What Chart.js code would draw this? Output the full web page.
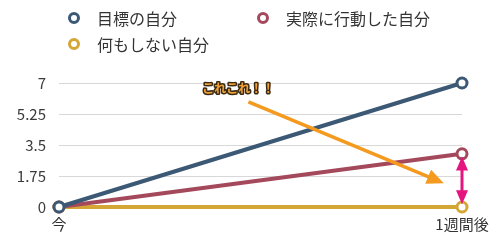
<!DOCTYPE html>
<html>
<head>
<meta charset="utf-8">
<script src="https://cdn.jsdelivr.net/npm/chart.js@4/dist/chart.umd.min.js"></script>
<style>
  html, body { margin: 0; padding: 0; background: #fff; }
  #wrap { width: 500px; height: 240px; position: relative; }
</style>
</head>
<body>
<div id="wrap"><canvas id="c"></canvas></div>
<script>
const labels = ["今", "1週間後"]
const seriesNames = ["目標の自分", "実際に行動した自分", "何もしない自分"]
const targetSelf = [0, 7]
const actualSelf = [0, 3]
const idleSelf = [0, 0]
const yTicks = [0, 1.75, 3.5, 5.25, 7]
const colors = ["#3b5874", "#a4485c", "#d3a636"]

const FONT = "'Noto Sans CJK JP', 'Noto Sans', sans-serif"

// legend in two columns, drawn by hand
const legendPlugin = {
  id: "gridLegend",
  afterDraw(chart) {
    const ctx = chart.ctx
    const spots = [[74, 18], [263, 18], [74, 44]]
    ctx.save()
    ctx.font = "16px " + FONT
    ctx.textBaseline = "middle"
    chart.data.datasets.forEach((ds, i) => {
      const [x, y] = spots[i]
      ctx.beginPath()
      ctx.arc(x, y, 4.5, 0, Math.PI * 2)
      ctx.fillStyle = "#fff"
      ctx.fill()
      ctx.lineWidth = 3
      ctx.strokeStyle = ds.borderColor
      ctx.stroke()
      ctx.fillStyle = "#333"
      ctx.fillText(ds.label, x + 23, y + 1)
    })
    ctx.restore()
  }
}

function arrowHead(ctx, x1, y1, x2, y2, len, wid) {
  const a = Math.atan2(y2 - y1, x2 - x1)
  ctx.beginPath()
  ctx.moveTo(x2, y2)
  ctx.lineTo(x2 - len * Math.cos(a) + wid * Math.sin(a), y2 - len * Math.sin(a) - wid * Math.cos(a))
  ctx.lineTo(x2 - len * Math.cos(a) - wid * Math.sin(a), y2 - len * Math.sin(a) + wid * Math.cos(a))
  ctx.closePath()
  ctx.fill()
}

// the hand-drawn callouts, placed in data units
const notePlugin = {
  id: "notes",
  afterDatasetsDraw(chart) {
    const ctx = chart.ctx
    const xs = chart.scales.x
    const ys = chart.scales.y
    const px = v => xs.getPixelForValue(0) + (xs.getPixelForValue(1) - xs.getPixelForValue(0)) * v
    ctx.save()

    // orange arrow
    const ax1 = px(0.47), ay1 = ys.getPixelForValue(5.94)
    const ax2 = px(0.955), ay2 = ys.getPixelForValue(1.34)
    ctx.strokeStyle = "#f39a1f"
    ctx.fillStyle = "#f39a1f"
    ctx.lineWidth = 3.5
    ctx.beginPath()
    ctx.moveTo(ax1, ay1)
    ctx.lineTo(ax2 - 8, ay2 - 3.4)
    ctx.stroke()
    arrowHead(ctx, ax1, ay1, ax2, ay2, 17, 7.5)

    // label
    ctx.font = "bold 12px " + FONT
    ctx.textAlign = "center"
    ctx.textBaseline = "middle"
    ctx.lineWidth = 3
    ctx.lineJoin = "round"
    ctx.strokeStyle = "#3b2a12"
    const tx = px(0.445), ty = ys.getPixelForValue(6.68)
    ctx.strokeText("これこれ！！", tx, ty)
    ctx.fillStyle = "#f2a23a"
    ctx.fillText("これこれ！！", tx, ty)

    // magenta double arrow
    const mx = xs.getPixelForValue(1)
    const mTop = ys.getPixelForValue(2.85), mBot = ys.getPixelForValue(0.15)
    ctx.strokeStyle = "#e5157f"
    ctx.fillStyle = "#e5157f"
    ctx.lineWidth = 3
    ctx.beginPath()
    ctx.moveTo(mx, mTop + 10)
    ctx.lineTo(mx, mBot - 10)
    ctx.stroke()
    arrowHead(ctx, mx, mBot, mx, mTop, 14, 6)
    arrowHead(ctx, mx, mTop, mx, mBot, 14, 6)
    ctx.restore()
  }
}

const data = [targetSelf, actualSelf, idleSelf]

new Chart(document.getElementById("c"), {
  type: "line",
  data: {
    labels: labels,
    datasets: seriesNames.map((name, i) => ({
      label: name,
      data: data[i],
      borderColor: colors[i],
      backgroundColor: "#fff",
      borderWidth: 4,
      pointRadius: 5,
      pointBorderWidth: 3,
      pointBackgroundColor: "#fff",
      pointBorderColor: colors[i],
      clip: false,
      tension: 0
    }))
  },
  options: {
    responsive: true,
    maintainAspectRatio: false,
    animation: false,
    layout: { padding: { top: 83, right: 38, left: 0, bottom: 7 } },
    scales: {
      x: {
        offset: false,
        grid: { display: false },
        border: { display: false },
        ticks: { color: "#333", font: { family: FONT, size: 15 }, padding: 0, maxRotation: 0 }
      },
      y: {
        min: 0,
        max: 7,
        afterFit(scale) { scale.width = 59 },
        afterBuildTicks(scale) { scale.ticks = yTicks.map(v => ({ value: v })) },
        grid: { color: "#d8d8d8", drawTicks: false, lineWidth: 1 },
        border: { display: false },
        ticks: {
          color: "#3a3a3a",
          font: { family: FONT, size: 15 },
          padding: 13,
          callback: v => String(v)
        }
      }
    },
    plugins: {
      legend: { display: false },
      tooltip: { enabled: false }
    }
  },
  plugins: [legendPlugin, notePlugin]
})
</script>
</body>
</html>
